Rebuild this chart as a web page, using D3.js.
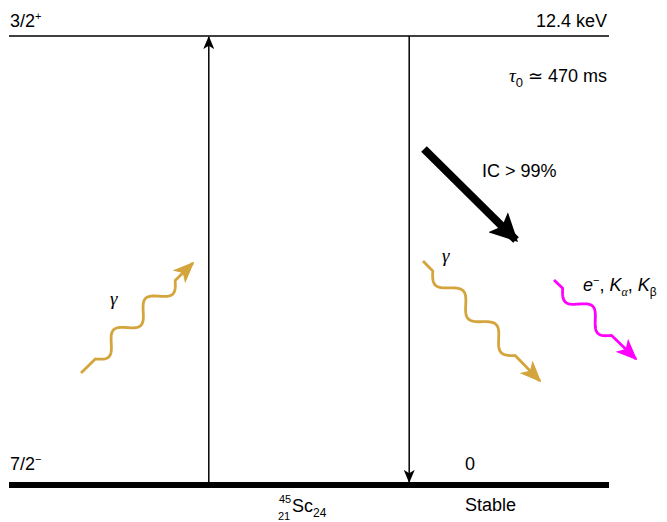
<!DOCTYPE html>
<html>
<head>
<meta charset="utf-8">
<script src="https://cdn.jsdelivr.net/npm/d3@7"></script>
<style>
  body { margin: 0; background: #fff; }
  text { font-family: "Liberation Sans", Arial, sans-serif; font-size: 18px; fill: #000; }
  .greek { font-family: "Liberation Serif", "DejaVu Serif", serif; font-style: italic; }
</style>
</head>
<body>
<div id="chart"></div>
<script>
// Nuclear levels of 45Sc (energy in keV)
const levelSpins = ["7/2", "3/2"];
const levelParity = ["\u2212", "+"];
const levelEnergies = [0, 12.4];
const levelEnergyLabels = ["0", "12.4 keV"];

// transitions: from -> to (energies), x position in level-width fraction
const transFrom = [0, 12.4];
const transTo = [12.4, 0];
const transPos = [0.333, 0.667];

const width = 667, height = 522;
const x = d3.scaleLinear().domain([0, 1]).range([9, 609]);
const y = d3.scaleLinear().domain([0, 12.4]).range([485, 36]);

const svg = d3.select("#chart").append("svg")
  .attr("width", width)
  .attr("height", height);

const defs = svg.append("defs");
function marker(id, color, w, h, vb, path) {
  defs.append("marker")
    .attr("id", id)
    .attr("viewBox", vb)
    .attr("refX", vb === "0 -5 10 10" ? 9 : 11).attr("refY", 0)
    .attr("markerUnits", "userSpaceOnUse")
    .attr("markerWidth", w).attr("markerHeight", h)
    .attr("orient", "auto")
    .append("path")
    .attr("d", path)
    .attr("fill", color);
}
marker("arrK", "#000", 14, 11, "0 -5 12 10", "M0,-5L12,0L0,5L3,0Z");
marker("arrG", "#d4a53c", 22, 18, "0 -5 12 10", "M0,-5L12,0L0,5L3,0Z");
marker("arrM", "#ff00ff", 22, 18, "0 -5 12 10", "M0,-5L12,0L0,5L3,0Z");
marker("bigK", "#000", 30, 28, "0 -5 10 10", "M0,-5L10,0L0,5L2,0Z");

// levels
svg.append("g").selectAll("line")
  .data(levelEnergies)
  .join("line")
  .attr("x1", x(0)).attr("x2", x(1))
  .attr("y1", d => y(d)).attr("y2", d => y(d))
  .attr("stroke", "#000")
  .attr("stroke-width", d => d === 0 ? 6 : 1.5);

// transitions
svg.append("g").selectAll("line")
  .data(transFrom.map((f, i) => ({f, t: transTo[i], p: transPos[i]})))
  .join("line")
  .attr("x1", d => x(d.p)).attr("x2", d => x(d.p))
  .attr("y1", d => y(d.f) + (d.f === 0 ? -3 : 0))
  .attr("y2", d => y(d.t) + (d.t === 0 ? -3 : 1))
  .attr("stroke", "#000")
  .attr("stroke-width", 1.5)
  .attr("marker-end", "url(#arrK)");

// spin labels
levelEnergies.forEach((e, i) => {
  const t = svg.append("text")
    .attr("x", 10)
    .attr("y", y(e) - (e === 0 ? 15 : 9));
  t.append("tspan").text(levelSpins[i]);
  t.append("tspan").attr("dy", -7).style("font-size", "11px").text(levelParity[i]);
});

// energy labels
svg.append("text").attr("x", 607).attr("y", y(12.4) - 9)
  .attr("text-anchor", "end").text(levelEnergyLabels[1]);
svg.append("text").attr("x", 465).attr("y", y(0) - 15).text(levelEnergyLabels[0]);
svg.append("text").attr("x", 465).attr("y", 511).text("Stable");

// lifetime
const tau = svg.append("text").attr("x", 607).attr("y", 82).attr("text-anchor", "end");
tau.append("tspan").attr("class", "greek").style("font-size", "19px").text("\u03C4");
tau.append("tspan").attr("dy", 5).style("font-size", "13px").text("0");
tau.append("tspan").attr("dy", -5).text(" \u2243 470 ms");

// nucleus label
const nuc = svg.append("text").attr("x", 279).attr("y", 512);
nuc.append("tspan").attr("dy", -9).style("font-size", "11px").text("45");
nuc.append("tspan").attr("x", 278).attr("dy", 17).style("font-size", "11px").text("21");
nuc.append("tspan").attr("x", 292).attr("dy", -8).text("Sc");
nuc.append("tspan").attr("dy", 5).style("font-size", "12px").text("24");

// internal conversion arrow
svg.append("line")
  .attr("x1", 424).attr("y1", 149)
  .attr("x2", 516).attr("y2", 240)
  .attr("stroke", "#000").attr("stroke-width", 8)
  .attr("marker-end", "url(#bigK)");
svg.append("text").attr("x", 482).attr("y", 177).text("IC > 99%");

// photon / emission wavy arrows
function wavy(p0, p1, tail, waveLen, amp, lambda, color, mk) {
  const dx = p1[0] - p0[0], dy = p1[1] - p0[1];
  const L = Math.hypot(dx, dy);
  const ux = dx / L, uy = dy / L, nx = -uy, ny = ux;
  const pts = [[0, 0], [tail, 0]];
  for (let s = 0; s <= waveLen; s += 1) {
    pts.push([tail + s, amp * Math.sin(2 * Math.PI * s / lambda)]);
  }
  pts.push([L, 0]);
  const line = d3.line()
    .x(d => p0[0] + ux * d[0] + nx * d[1])
    .y(d => p0[1] + uy * d[0] + ny * d[1]);
  svg.append("path")
    .attr("d", line(pts))
    .attr("fill", "none")
    .attr("stroke", color)
    .attr("stroke-width", 2.8)
    .attr("stroke-linejoin", "round")
    .attr("marker-end", `url(#${mk})`);
}
wavy([81, 373], [193, 263], 20, 112, 8, 44.8, "#d4a53c", "arrG");
wavy([423, 261], [540, 381], 14, 118, 8, 47.2, "#d4a53c", "arrG");
wavy([554, 280], [636, 359], 12, 68, 8, 45.3, "#ff00ff", "arrM");

svg.append("text").attr("class", "greek").attr("x", 110).attr("y", 305).style("font-size", "19px").text("\u03B3");
svg.append("text").attr("class", "greek").attr("x", 442).attr("y", 262).style("font-size", "19px").text("\u03B3");

const ek = svg.append("text").attr("x", 583).attr("y", 291).style("font-size", "18px");
ek.append("tspan").style("font-style", "italic").text("e");
ek.append("tspan").attr("dy", -7).style("font-size", "11px").text("\u2212");
ek.append("tspan").attr("dy", 7).text(", ");
ek.append("tspan").style("font-style", "italic").text("K");
ek.append("tspan").attr("dy", 5).style("font-size", "12px").attr("class", "greek").text("\u03B1");
ek.append("tspan").attr("dy", -5).text(", ");
ek.append("tspan").style("font-style", "italic").text("K");
ek.append("tspan").attr("dy", 5).style("font-size", "12px").text("\u03B2");
</script>
</body>
</html>
